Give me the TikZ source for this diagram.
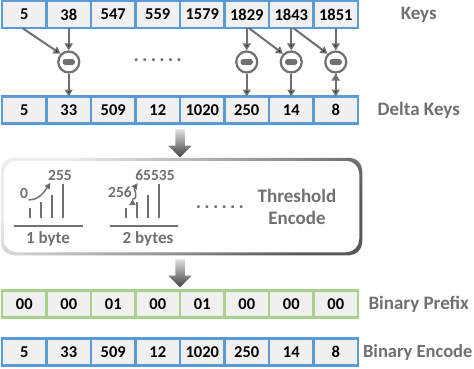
\documentclass[tikz,border=0pt]{standalone}
\usepackage{fontspec}
\setmainfont{Carlito}
\usepackage{tikz}
\usetikzlibrary{positioning,arrows.meta,shapes.arrows}

\definecolor{keyblue}{RGB}{91,155,213}
\definecolor{prefgreen}{RGB}{169,209,142}
\definecolor{cellgray}{RGB}{240,240,240}
\definecolor{txtgray}{RGB}{112,112,112}

\begin{document}
\begin{tikzpicture}[x=1pt,y=1pt,>={Triangle[length=7pt,width=8pt]},node distance=44.5pt,
                    line width=1.5pt]
\tikzstyle{cell}=[draw=keyblue,fill=cellgray,line width=2.5pt,outer sep=0pt,inner sep=0pt,minimum width=44.5pt,minimum height=27pt,font=\bfseries\fontsize{16.5}{18}\selectfont]
\tikzstyle{pcell}=[cell,draw=prefgreen]
\tikzstyle{rowlabel}=[text=txtgray,font=\bfseries\fontsize{19}{21}\selectfont]
\tikzstyle{minus}=[circle,draw=txtgray,fill=white,line width=2.2pt,minimum size=21pt,inner sep=0pt,
  path picture={\draw[txtgray,line width=5.5pt,line cap=round] ([xshift=-3.5pt]path picture bounding box.center) -- ([xshift=3.5pt]path picture bounding box.center);}]
\tikzstyle{small}=[text=txtgray,inner sep=1pt,font=\bfseries\fontsize{15.5}{17}\selectfont]
\tikzstyle{bigarrow}=[single arrow,shape border rotate=270,draw=none,top color=gray!25,bottom color=black!75,inner sep=4pt,single arrow head extend=7pt,minimum height=28pt]
\tikzstyle{flow}=[->,draw=txtgray,line width=2pt]
\tikzset{dots/.style={text=txtgray,font=\bfseries\fontsize{20}{22}\selectfont}}
\newcommand{\gapdots}{.\kern3.2pt.\kern3.2pt.\kern3.2pt.\kern3.2pt.\kern3.2pt.}

\useasboundingbox (0,0) rectangle (474,368);

        % keys
        \node[cell]                (k1)   at (24.25,353.5)     {5};
        \node[cell]                (k2)   [right of=k1]        {38};
        \node[cell]                (k3)   [right of=k2]        {547};
        \node[cell]                (k4)   [right of=k3]        {559};
        \node[cell]                (k5)   [right of=k4]        {1579};
        \node[cell]                (k6)   [right of=k5]        {1829};
        \node[cell]                (k7)   [right of=k6]        {1843};
        \node[cell]                (k8)   [right of=k7]        {1851};
        \node[rowlabel, node distance=83pt]    (keys) [right of=k8] {Keys};

        % subtraction
        \node[minus, node distance=47.5pt]     (m2)   [below of=k2] {};
        \node[minus, node distance=47.5pt]     (m6)   [below of=k6] {};
        \node[minus, node distance=47.5pt]     (m7)   [below of=k7] {};
        \node[minus, node distance=47.5pt]     (m8)   [below of=k8] {};
        \node[dots, node distance=46pt]        (gap)  [below of=k4] {\gapdots};

        % delta keys
        \node[cell, node distance=95.5pt]      (d1)   [below of=k1] {5};
        \node[cell]                (d2)   [right of=d1]        {33};
        \node[cell]                (d3)   [right of=d2]        {509};
        \node[cell]                (d4)   [right of=d3]        {12};
        \node[cell]                (d5)   [right of=d4]        {1020};
        \node[cell]                (d6)   [right of=d5]        {250};
        \node[cell]                (d7)   [right of=d6]        {14};
        \node[cell]                (d8)   [right of=d7]        {8};
        \node[rowlabel, node distance=83pt]    (delta) [right of=d8] {Delta Keys};

        \path[flow]
        ([xshift=-2pt]k1.south) edge (m2.north west)
        (k2.south) edge (m2.north)
        (m2.south) edge (d2.north)
        (k6.south) edge (m6.north)
        (m6.south) edge (d6.north)
        ([xshift=2pt]k6.south) edge (m7.north west)
        (k7.south) edge (m7.north)
        (m7.south) edge (d7.north)
        ([xshift=2pt]k7.south) edge (m8.north west)
        (k8.south) edge (m8.north)
        (m8.south) edge (d8.north)
        ; %end path

        % threshold encode
        \node[bigarrow]            (a1)   at (180,227)         {};
        \node[minimum width=357pt,minimum height=93pt] (enc) at (181.5,161.5) {};
        \shade[top color=gray!15,bottom color=txtgray!80!black,shading angle=40,even odd rule,rounded corners=13pt]
          ([shift={(-1.5pt,-1.5pt)}]enc.south west) rectangle ([shift={(1.5pt,1.5pt)}]enc.north east)
          ([shift={(1.5pt,1.5pt)}]enc.south west) rectangle ([shift={(-1.5pt,-1.5pt)}]enc.north east);

        \node[small]               (lo1)  at (24,175)          {0};
        \node[small]               (hi1)  at (60,193)          {255};
        \node[small]               (lo2)  at (120,176)         {256};
        \node[small]               (hi2)  at (155,193)         {65535};
        \node[small, font=\bfseries\fontsize{17}{19}\selectfont] (b1) at (48,129)  {1 byte};
        \node[small, font=\bfseries\fontsize{17}{19}\selectfont] (b2) at (148,129) {2 bytes};
        \node[dots]                (more) at (220,161)         {\gapdots};
        \node[small, align=center, font=\bfseries\fontsize{19}{22}\selectfont] (thr) at (297,161) {Threshold\\Encode};

        \draw[txtgray] (30,150) -- (30,160) (41,150) -- (41,166) (52,150) -- (52,173) (63,150) -- (63,184);
        \draw[txtgray] (126,150) -- (126,160) (137,150) -- (137,166) (148,150) -- (148,173) (159,150) -- (159,184);
        \draw[txtgray,line width=2pt] (14,142) -- (83,142);
        \draw[txtgray,line width=2pt] (110,142) -- (178,142);

        \path[flow,line width=1.5pt,>={Triangle[length=6pt,width=6pt]}]
        ([xshift=-1pt]lo1.south east) edge[out=0,in=235] ([xshift=4pt,yshift=-1pt]hi1.south west)
        ([xshift=-1pt]lo2.south east) edge[out=0,in=235] ([xshift=4pt,yshift=-1pt]hi2.south west)
        ; %end path

        % binary prefix and encode
        \node[bigarrow]            (a2)   at (180,97)          {};

        \node[pcell]               (p1)   at (24.25,64)        {00};
        \node[pcell]               (p2)   [right of=p1]        {00};
        \node[pcell]               (p3)   [right of=p2]        {01};
        \node[pcell]               (p4)   [right of=p3]        {00};
        \node[pcell]               (p5)   [right of=p4]        {01};
        \node[pcell]               (p6)   [right of=p5]        {00};
        \node[pcell]               (p7)   [right of=p6]        {00};
        \node[pcell]               (p8)   [right of=p7]        {00};
        \node[rowlabel, node distance=83pt]    (prefix) [right of=p8] {Binary Prefix};

        \node[cell, node distance=48pt]        (e1)   [below of=p1] {5};
        \node[cell]                (e2)   [right of=e1]        {33};
        \node[cell]                (e3)   [right of=e2]        {509};
        \node[cell]                (e4)   [right of=e3]        {12};
        \node[cell]                (e5)   [right of=e4]        {1020};
        \node[cell]                (e6)   [right of=e5]        {250};
        \node[cell]                (e7)   [right of=e6]        {14};
        \node[cell]                (e8)   [right of=e7]        {8};
        \node[rowlabel, node distance=82pt, font=\bfseries\fontsize{18.5}{21}\selectfont] (encode) [right of=e8] {Binary Encode};

\end{tikzpicture}
\end{document}
